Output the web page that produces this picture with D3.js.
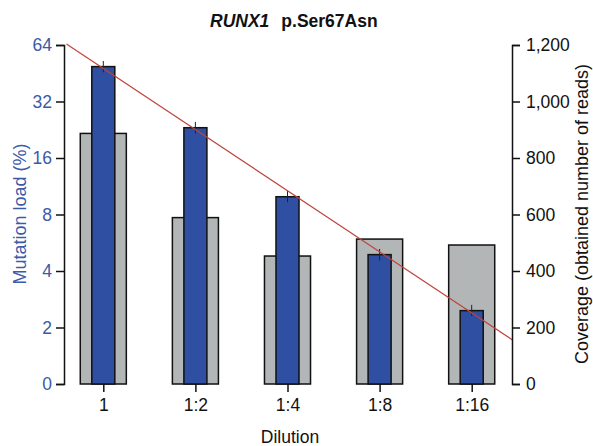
<!DOCTYPE html>
<html>
<head>
<meta charset="utf-8">
<script src="https://cdn.jsdelivr.net/npm/d3@7"></script>
<style>
  html, body { margin: 0; padding: 0; background: #fff; }
  svg { display: block; font-family: Arial, "Liberation Sans", sans-serif; }
</style>
</head>
<body>
<svg id="chart" width="593" height="446"></svg>
<script>
// data
const dilutions = ['1', '1:2', '1:4', '1:8', '1:16'];
const coverage = [887, 589, 453, 513, 492];           // grey bars, right axis
const mutationLoad = [49.1, 23.2, 9.95, 4.89, 2.46];  // blue bars, left axis (%)
const loadLow = [45.8, 21.6, 9.3, 4.56, 2.3];
const loadHigh = [52.6, 24.9, 10.7, 5.24, 2.64];
const trendIndex = [-0.4, 4.44];   // fitted dilution line, category index
const trendLoad = [64.7, 1.72];    // fitted dilution line, mutation load (%)

const leftTicks = [1, 2, 4, 8, 16, 32, 64];
const leftTickLabels = ['0', '2', '4', '8', '16', '32', '64'];
const rightTicks = [0, 200, 400, 600, 800, 1000, 1200];

const blueText = '#3a5aaa';
const blueFill = '#2f4fa2';
const greyFill = '#b3b6b7';
const redLine = '#c0433c';

const plotLeft = 64, plotRight = 512, plotTop = 45, plotBottom = 384;

const svg = d3.select('#chart');

const x = d3.scalePoint().domain(dilutions).range([57.25, 517.75]).padding(0.5);
const step = x.step();
const xIdx = d3.scaleLinear().domain([0, 4]).range([x(dilutions[0]), x(dilutions[4])]);
const yLoad = d3.scaleLog().base(2).domain([1, 64]).range([plotBottom, plotTop]);
const yCov = d3.scaleLinear().domain([0, 1200]).range([plotBottom, plotTop]);

// grey coverage bars
svg.append('g').selectAll('rect')
    .data(dilutions)
    .join('rect')
    .attr('x', d => x(d) - step * 0.25)
    .attr('width', step * 0.5)
    .attr('y', (d, i) => yCov(coverage[i]))
    .attr('height', (d, i) => plotBottom - yCov(coverage[i]))
    .attr('fill', greyFill)
    .attr('stroke', '#111')
    .attr('stroke-width', 1.5);

// blue mutation load bars
svg.append('g').selectAll('rect')
    .data(dilutions)
    .join('rect')
    .attr('x', d => x(d) - step * 0.125)
    .attr('width', step * 0.25)
    .attr('y', (d, i) => yLoad(mutationLoad[i]))
    .attr('height', (d, i) => plotBottom - yLoad(mutationLoad[i]))
    .attr('fill', blueFill)
    .attr('stroke', '#111')
    .attr('stroke-width', 1.5);

// error bars
svg.append('g').selectAll('line')
    .data(dilutions)
    .join('line')
    .attr('x1', d => x(d)).attr('x2', d => x(d))
    .attr('y1', (d, i) => yLoad(loadHigh[i]))
    .attr('y2', (d, i) => yLoad(loadLow[i]))
    .attr('stroke', '#222')
    .attr('stroke-width', 1);

// fitted line
svg.append('line')
    .attr('x1', xIdx(trendIndex[0])).attr('y1', yLoad(trendLoad[0]))
    .attr('x2', xIdx(trendIndex[1])).attr('y2', yLoad(trendLoad[1]))
    .attr('stroke', redLine)
    .attr('stroke-width', 1.2);

// left axis
const leftAxis = svg.append('g')
    .attr('transform', `translate(${plotLeft},0)`)
    .call(d3.axisLeft(yLoad).tickValues(leftTicks)
        .tickFormat((d, i) => leftTickLabels[i]).tickSizeOuter(0).tickSize(8).tickPadding(4));
leftAxis.select('.domain').attr('stroke', '#111').attr('stroke-width', 1.5);
leftAxis.selectAll('.tick line').attr('stroke', '#111').attr('stroke-width', 1.5);
leftAxis.selectAll('.tick text').attr('fill', blueText).style('font-size', '17.5px');

// right axis
const rightAxis = svg.append('g')
    .attr('transform', `translate(${plotRight},0)`)
    .call(d3.axisRight(yCov).tickValues(rightTicks)
        .tickFormat(d3.format(',')).tickSizeOuter(0).tickSize(8).tickPadding(6));
rightAxis.select('.domain').attr('stroke', '#111').attr('stroke-width', 1.5);
rightAxis.selectAll('.tick line').attr('stroke', '#111').attr('stroke-width', 1.5);
rightAxis.selectAll('.tick text').attr('fill', '#111').style('font-size', '17.5px');

// bottom axis: ticks only
const bottomAxis = svg.append('g')
    .attr('transform', `translate(0,${plotBottom})`)
    .call(d3.axisBottom(x).tickSizeOuter(0).tickSize(8).tickPadding(7));
bottomAxis.select('.domain').remove();
bottomAxis.selectAll('.tick line').attr('stroke', '#111').attr('stroke-width', 1.5);
bottomAxis.selectAll('.tick text').attr('fill', '#111').style('font-size', '17.5px');

// axis titles
svg.append('text')
    .attr('transform', `translate(26,214) rotate(-90)`)
    .attr('text-anchor', 'middle')
    .attr('fill', blueText)
    .style('font-size', '18px')
    .text('Mutation load (%)');

svg.append('text')
    .attr('transform', `translate(588,214) rotate(-90)`)
    .attr('text-anchor', 'middle')
    .attr('fill', '#111')
    .style('font-size', '18px')
    .text('Coverage (obtained number of reads)');

svg.append('text')
    .attr('x', 290)
    .attr('y', 443)
    .attr('text-anchor', 'middle')
    .attr('fill', '#111')
    .style('font-size', '17.5px')
    .text('Dilution');

// title
const title = svg.append('text')
    .attr('x', 210)
    .attr('y', 27)
    .attr('fill', '#111')
    .style('font-size', '17.5px')
    .style('font-weight', 'bold');
title.append('tspan').style('font-style', 'italic').text('RUNX1');
title.append('tspan').attr('dx', 12).text('p.Ser67Asn');
</script>
</body>
</html>
